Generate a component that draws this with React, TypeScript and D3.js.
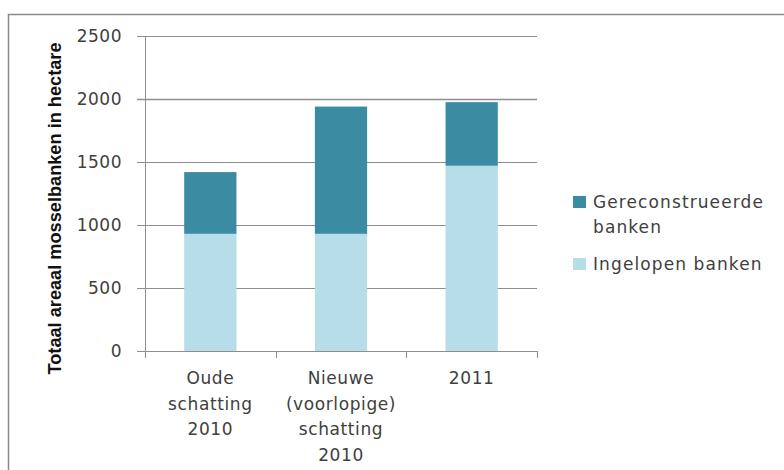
import React from "react";
import * as d3 from "d3";

const categories = [
  ["Oude", "schatting", "2010"],
  ["Nieuwe", "(voorlopige)", "schatting", "2010"],
  ["2011"],
];
const ingelopen = [930, 930, 1470];
const gereconstrueerd = [490, 1010, 505];
const yTicks = [0, 500, 1000, 1500, 2000, 2500];
const seriesNames = ["Gereconstrueerde banken", "Ingelopen banken"];

const W = 784;
const H = 470;
const DARK = "#3b8ba3";
const LIGHT = "#b7dde8";
const GRID = "#8e8e8e";

export default function App() {
  const x = d3
    .scaleBand<number>()
    .domain(d3.range(categories.length))
    .range([145, 537])
    .paddingInner(0.6)
    .paddingOuter(0.3);
  const xStep = d3.scaleLinear().domain([0, categories.length]).range([145, 537]);
  const y = d3.scaleLinear().domain([0, 2500]).range([351, 36]);

  const stacked = d3.stack<number>().keys(["a", "b"]).value((i, k) =>
    k === "a" ? ingelopen[i] : gereconstrueerd[i]
  )(d3.range(categories.length));

  const font = "'DejaVu Sans', Verdana, sans-serif";

  return (
    <svg
      width={W}
      height={H}
      style={{ position: "absolute", left: 0, top: 0, background: "#fff" }}
    >
      <rect x={8.5} y={14.5} width={900} height={600} fill="#fff" stroke="#8a8a8a" strokeWidth={1.5} />

      {/* gridlines */}
      {yTicks.map((t) => (
        <line key={t} x1={137} x2={537} y1={y(t) + 0.5} y2={y(t) + 0.5} stroke={GRID} strokeWidth={t === 2000 ? 1.5 : 1} />
      ))}
      <line x1={145.5} x2={145.5} y1={y(2500)} y2={y(0)} stroke={GRID} />
      {d3.range(categories.length + 1).map((i) => (
        <line key={i} x1={Math.round(xStep(i)) + 0.5} x2={Math.round(xStep(i)) + 0.5} y1={y(0)} y2={y(0) + 7} stroke={GRID} />
      ))}

      {/* bars */}
      {stacked.map((s, si) =>
        s.map((d, i) => (
          <rect
            key={si + "-" + i}
            x={x(i)}
            width={x.bandwidth()}
            y={y(d[1])}
            height={y(d[0]) - y(d[1])}
            fill={si === 0 ? LIGHT : DARK}
          />
        ))
      )}

      {/* y tick labels */}
      {yTicks.map((t) => (
        <text key={t} x={122} y={y(t) + 6} textAnchor="end" fontFamily={font} fontSize={17} fill="#404040" letterSpacing={0.5}>
          {t}
        </text>
      ))}

      {/* x labels */}
      {categories.map((lines, i) => (
        <text key={i} textAnchor="middle" fontFamily={font} fontSize={17} fill="#404040" letterSpacing={0.6}>
          {lines.map((l, j) => (
            <tspan key={j} x={x(i)! + x.bandwidth() / 2} y={384 + j * 25.5}>
              {l}
            </tspan>
          ))}
        </text>
      ))}

      {/* y axis title */}
      <text
        transform={`translate(61,${(y(0) + y(2500)) / 2 + 15}) rotate(-90)`}
        textAnchor="middle"
        fontFamily="'Liberation Sans', Arial, sans-serif"
        fontWeight="bold"
        fontSize={17.5}
        fill="#111"
        textLength={332}
        lengthAdjust="spacingAndGlyphs"
      >
        Totaal areaal mosselbanken in hectare
      </text>

      {/* legend */}
      <rect x={573} y={196} width={13} height={12} fill={DARK} />
      <text fontFamily={font} fontSize={17} fill="#404040" letterSpacing={1.1}>
        <tspan x={593} y={208}>Gereconstrueerde</tspan>
        <tspan x={593} y={233}>banken</tspan>
      </text>
      <rect x={573} y={258} width={13} height={12} fill={LIGHT} />
      <text fontFamily={font} fontSize={17} fill="#404040" letterSpacing={1.1} x={593} y={270}>
        {seriesNames[1]}
      </text>
    </svg>
  );
}
